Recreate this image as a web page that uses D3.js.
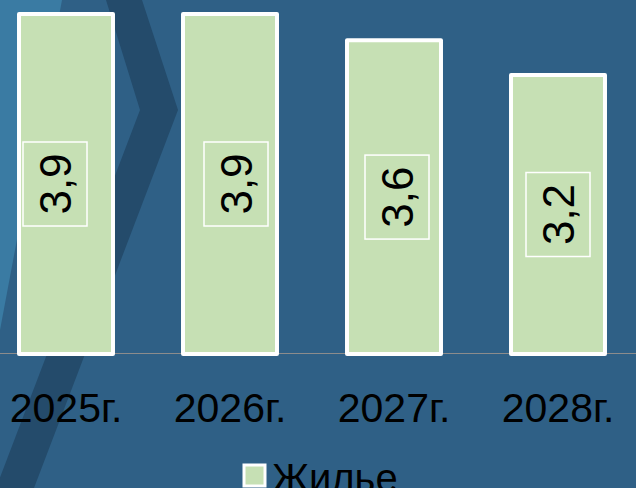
<!DOCTYPE html>
<meta charset="utf-8">
<style>
body { margin: 0; background: #2f6086; }
svg { display: block; font-family: "Liberation Sans", Arial, sans-serif; }
</style>
<svg width="636" height="488"></svg>
<script src="https://cdnjs.cloudflare.com/ajax/libs/d3/7.8.5/d3.min.js"></script>
<script>

var years = ["2025г.", "2026г.", "2027г.", "2028г."];
var housing = [3.9, 3.9, 3.6, 3.2];
var seriesName = "Жилье";
var labelNudge = [-11, 6, 3, 0]; // the data labels are not quite centred in the original

var svg = d3.select("svg"),
    width = +svg.attr("width"),
    height = +svg.attr("height");

var green = "#c6e0b4";

// background and the dark chevron
svg.append("rect")
    .attr("width", width)
    .attr("height", height)
    .attr("fill", "#2f6086");

svg.append("polygon")
    .attr("points", "0,0 62,0 0,330")
    .attr("fill", "#3a7ba3");

svg.append("polygon")
    .attr("points", "106,0 142,0 178,110 34,488 -4,488 140,110")
    .attr("fill", "#244b6b");

var x = d3.scaleBand()
    .domain(years)
    .range([-16, 640])
    .paddingInner(0.427)
    .paddingOuter(0.2135);

var y = d3.scaleLinear()
    .domain([0, 3.9])
    .range([354, 14]);

// baseline
svg.append("line")
    .attr("x1", 0)
    .attr("x2", width)
    .attr("y1", y(0) - 0.5)
    .attr("y2", y(0) - 0.5)
    .attr("stroke", "#8c8c8c")
    .attr("stroke-width", 1);

var bar = svg.selectAll(".bar")
    .data(housing)
  .enter().append("g")
    .attr("class", "bar");

bar.append("rect")
    .attr("x", function(d, i) { return x(years[i]); })
    .attr("y", function(d) { return y(d); })
    .attr("width", x.bandwidth())
    .attr("height", function(d) { return y(0) - y(d); })
    .attr("fill", green)
    .attr("stroke", "#fff")
    .attr("stroke-width", 4)
    .attr("stroke-linejoin", "round");

var label = bar.append("g")
    .attr("transform", function(d, i) {
      var cx = x(years[i]) + x.bandwidth() / 2 + labelNudge[i];
      var cy = (y(d) + y(0)) / 2;
      return "translate(" + cx + "," + cy + ")";
    });

label.append("rect")
    .attr("x", -32)
    .attr("y", -42)
    .attr("width", 64)
    .attr("height", 84)
    .attr("fill", "none")
    .attr("stroke", "#fff")
    .attr("stroke-width", 1.5);

label.append("text")
    .attr("transform", "rotate(-90)")
    .attr("text-anchor", "middle")
    .attr("y", "0.36em")
    .attr("font-size", 44)
    .attr("fill", "#000")
    .text(function(d) { return String(d).replace(".", ","); });

// category labels
svg.selectAll(".year")
    .data(years)
  .enter().append("text")
    .attr("class", "year")
    .attr("x", function(d) { return x(d) + x.bandwidth() / 2; })
    .attr("y", 422)
    .attr("text-anchor", "middle")
    .attr("font-size", 41)
    .attr("fill", "#000")
    .text(function(d) { return d; });

// legend
var legend = svg.append("g")
    .attr("transform", "translate(244,465)");

legend.append("rect")
    .attr("width", 21)
    .attr("height", 21)
    .attr("fill", green)
    .attr("stroke", "#fff")
    .attr("stroke-width", 3);

legend.append("text")
    .attr("x", 28)
    .attr("y", 27)
    .attr("font-size", 40)
    .attr("fill", "#000")
    .text(seriesName);

</script>
